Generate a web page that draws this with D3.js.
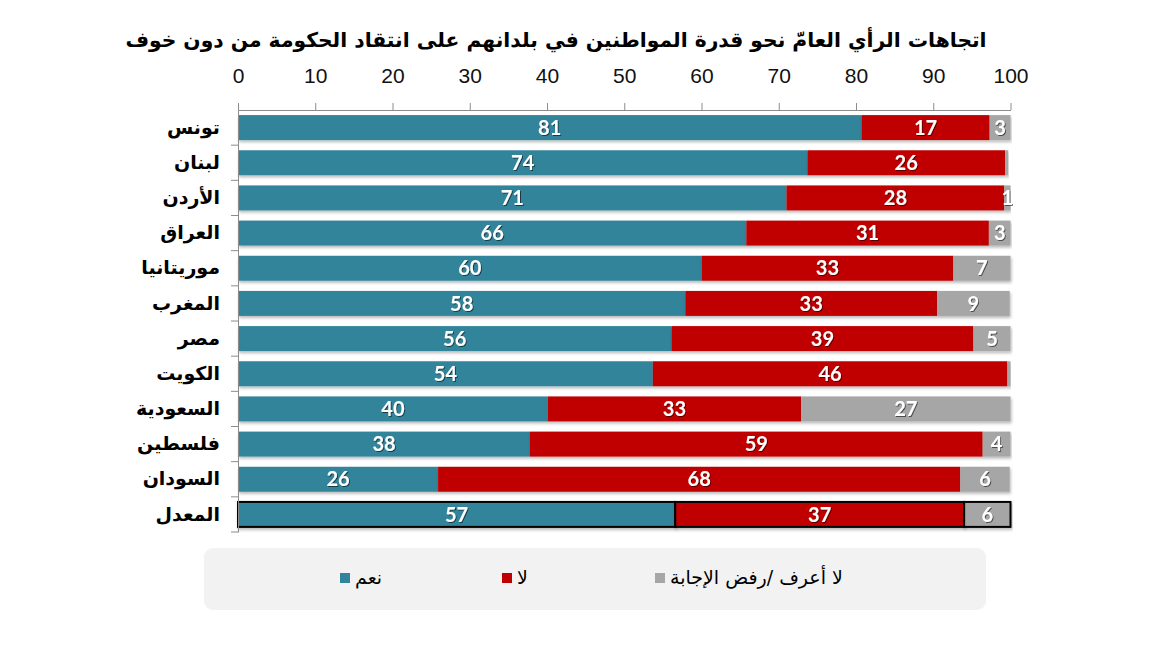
<!DOCTYPE html>
<html lang="ar">
<head>
<meta charset="utf-8">
<script src="https://cdn.jsdelivr.net/npm/d3@7"></script>
<style>
  html, body { margin: 0; padding: 0; background: #ffffff; }
  svg { display: block; }
</style>
</head>
<body>
<svg id="chart" width="1155" height="650"></svg>
<script>
// ---- data ----
const title = "اتجاهات الرأي العامّ نحو قدرة المواطنين في بلدانهم على انتقاد الحكومة من دون خوف";
const categories = ["تونس", "لبنان", "الأردن", "العراق", "موريتانيا", "المغرب", "مصر", "الكويت", "السعودية", "فلسطين", "السودان", "المعدل"];
const yesValues = [80.7, 73.7, 71.0, 65.8, 60.0, 57.9, 56.1, 53.7, 40.1, 37.8, 25.9, 56.6];
const noValues  = [16.6, 25.6, 28.2, 31.4, 32.6, 32.6, 39.1, 45.9, 32.8, 58.6, 67.6, 37.4];
const dkValues  = [2.7, 0.4, 0.8, 2.8, 7.4, 9.4, 4.8, 0.4, 27.1, 3.6, 6.4, 6.0];
const seriesNames = ["نعم", "لا", "لا أعرف /رفض الإجابة"];
const seriesColors = ["#31849B", "#C00000", "#A6A6A6"];
const xTicks = [0, 10, 20, 30, 40, 50, 60, 70, 80, 90, 100];
const averageCategory = "المعدل";

// ---- build ----
const svg = d3.select("#chart");
const defs = svg.append("defs");
const f = defs.append("filter").attr("id", "shadow").attr("x", "-5%").attr("y", "-30%").attr("width", "110%").attr("height", "180%");
f.append("feDropShadow").attr("dx", 1).attr("dy", 2).attr("stdDeviation", 1.6).attr("flood-color", "#000").attr("flood-opacity", 0.28);
const tf = defs.append("filter").attr("id", "tshadow").attr("x", "-20%").attr("y", "-20%").attr("width", "140%").attr("height", "150%");
tf.append("feDropShadow").attr("dx", 1).attr("dy", 1).attr("stdDeviation", 0.6).attr("flood-color", "#000").attr("flood-opacity", 0.55);

const x = d3.scaleLinear().domain([0, 100]).range([238, 1010.5]);
const y = d3.scaleBand().domain(categories).range([110, 532]).paddingInner(0.29).paddingOuter(0.145);

// title
svg.append("text")
  .attr("x", 556).attr("y", 47)
  .attr("text-anchor", "middle")
  .style("font-family", "'DejaVu Sans', sans-serif")
  .style("font-weight", "bold")
  .style("font-size", "20.3px")
  .attr("fill", "#000")
  .text(title);

// stacked data
const rows = categories.map((c, i) => ({ cat: c, vals: [yesValues[i], noValues[i], dkValues[i]] }));
const stackKeys = [0, 1, 2];
const stack = d3.stack().keys(stackKeys).value((d, k) => d.vals[k]);
const layers = stack(rows);

const gBars = svg.append("g");
layers.forEach((layer, k) => {
  const g = gBars.append("g").attr("fill", seriesColors[k]);
  g.selectAll("rect").data(layer).join("rect")
    .attr("x", d => x(d[0]))
    .attr("y", d => y(d.data.cat))
    .attr("width", d => Math.max(0, x(d[1]) - x(d[0])))
    .attr("height", y.bandwidth())
    .attr("filter", "url(#shadow)")
    .attr("stroke", d => d.data.cat === averageCategory ? "#000" : "none")
    .attr("stroke-width", 2);
});

// value labels
const gLab = svg.append("g");
layers.forEach((layer, k) => {
  gLab.selectAll(null).data(layer.filter(d => Math.round(d.data.vals[k]) >= 1)).join("text")
    .attr("x", d => (x(d[0]) + x(d[1])) / 2)
    .attr("y", d => y(d.data.cat) + y.bandwidth() / 2)
    .attr("dy", "0.36em")
    .attr("text-anchor", "middle")
    .attr("fill", "#fff")
    .attr("filter", "url(#tshadow)")
    .style("font-family", "Lato, 'Open Sans', sans-serif")
    .style("font-weight", "bold")
    .style("font-size", "20px")
    .text(d => d3.format(".0f")(d.data.vals[k]));
});

// x axis (top)
const xAxis = d3.axisTop(x).tickValues(xTicks).tickSize(7).tickPadding(20).tickSizeOuter(0);
const gx = svg.append("g").attr("transform", "translate(0,110)").call(xAxis);
gx.select(".domain").attr("stroke", "#8c8c8c");
gx.selectAll(".tick line").attr("stroke", "#8c8c8c");
gx.selectAll(".tick text")
  .attr("fill", "#111")
  .style("font-family", "'Liberation Sans Narrow', 'Arial Narrow', sans-serif")
  .style("font-size", "21px");

// y axis (left) with boundary ticks
const yAxis = d3.axisLeft(y).tickSize(0).tickPadding(18);
const gy = svg.append("g").attr("transform", "translate(238,0)").call(yAxis);
gy.select(".domain").attr("stroke", "#8c8c8c");
gy.selectAll(".tick text")
  .attr("fill", "#000")
  .style("font-family", "'DejaVu Sans', sans-serif")
  .style("font-weight", "bold")
  .style("font-size", "19px");
const bounds = categories.map(c => y(c) - y.step() * y.paddingInner() / 2).slice(1).concat([y.range()[1]]);
gy.selectAll("line.bound").data(bounds).join("line")
  .attr("class", "bound")
  .attr("x1", -7).attr("x2", 0)
  .attr("y1", d => d).attr("y2", d => d)
  .attr("stroke", "#8c8c8c");

// legend
const leg = svg.append("g");
leg.append("rect")
  .attr("x", 204).attr("y", 548).attr("width", 782).attr("height", 62)
  .attr("rx", 9).attr("fill", "#f2f2f2");
const legendX = [340, 502, 655];
seriesNames.forEach((name, k) => {
  leg.append("rect").attr("x", legendX[k]).attr("y", 573).attr("width", 10).attr("height", 10).attr("fill", seriesColors[k]);
  leg.append("text")
    .attr("x", legendX[k] + 15).attr("y", 584)
    .attr("text-anchor", "start")
    .style("font-family", "'DejaVu Sans', sans-serif")
    .style("font-size", "19px")
    .attr("fill", "#000")
    .text(name);
});
</script>
</body>
</html>
